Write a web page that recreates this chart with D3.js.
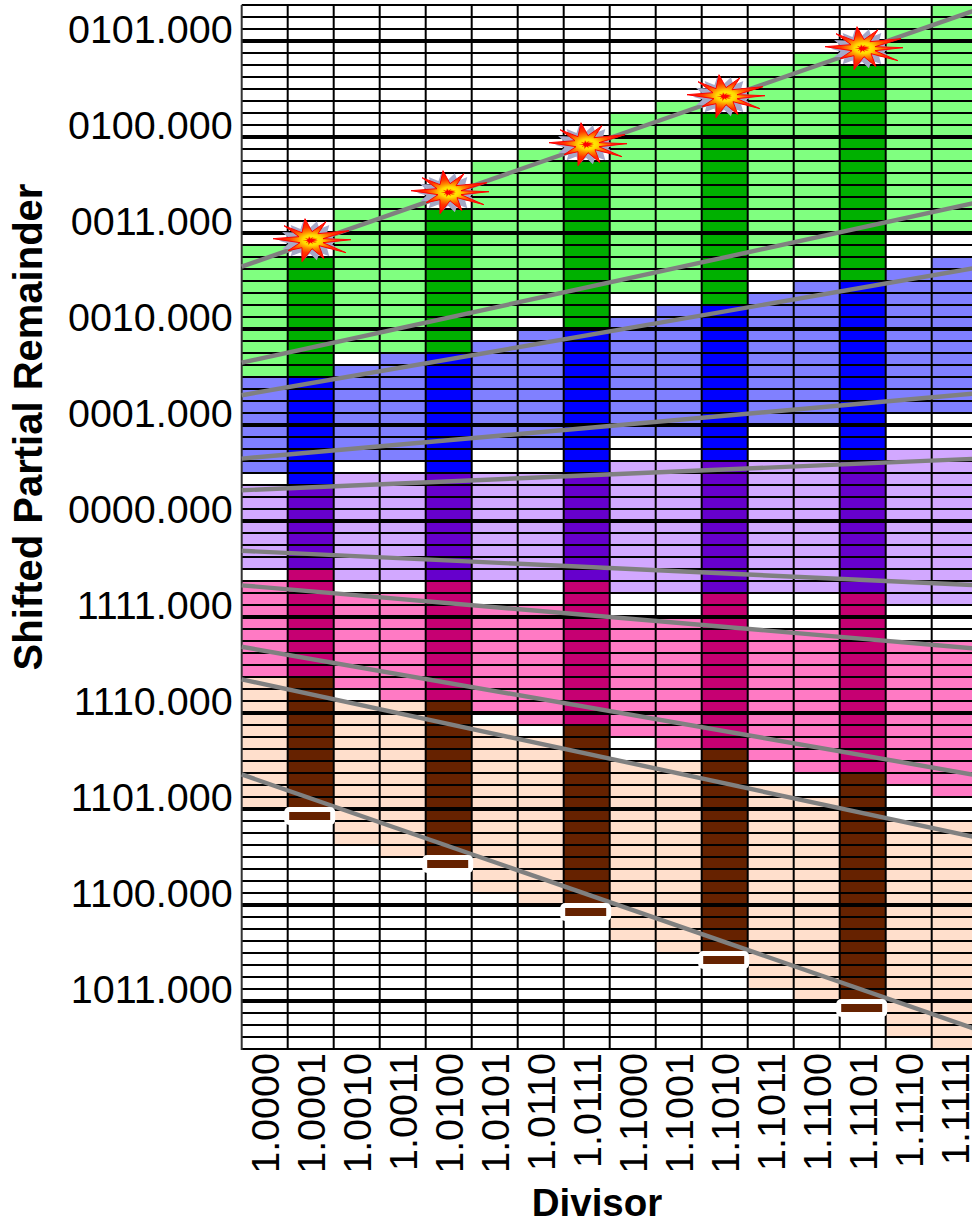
<!DOCTYPE html>
<html>
<head>
<meta charset="utf-8">
<script src="https://cdn.jsdelivr.net/npm/d3@7"></script>
<style>
html, body { margin: 0; padding: 0; background: #fff; overflow: hidden; }
svg { display: block; }
text { font-family: "Liberation Sans", Arial, sans-serif; fill: #000; }
</style>
</head>
<body>
<div id="chart"></div>
<script>
// divisor columns (x axis) and remainder labels (y axis)
const divisors = ['1.0000','1.0001','1.0010','1.0011','1.0100','1.0101','1.0110','1.0111',
                  '1.1000','1.1001','1.1010','1.1011','1.1100','1.1101','1.1110','1.1111'];
const remainderValues = [5,4,3,2,1,0,-1,-2,-3,-4,-5];
const remainderLabels = ['0101.000','0100.000','0011.000','0010.000','0001.000','0000.000',
                         '1111.000','1110.000','1101.000','1100.000','1011.000'];

// columns drawn in the dark shade
const darkColumns = [1,4,7,10,13];

// top and bottom edge of each digit region per column, in eighths of a unit
const plus2Top  = [23,22,26,27,26,30,31,30,34,35,34,38,39,38,42,43];
const plus2Bot  = [12,12,14,14,14,16,17,16,19,19,18,21,22,20,24,24];
const plus1Top  = [12,12,13,14,14,15,16,16,17,18,18,19,20,20,21,22];
const plus1Bot  = [ 4, 3, 5, 5, 4, 6, 6, 4, 7, 7, 5, 8, 8, 5, 9, 9];
const zeroTop   = [ 3, 3, 4, 4, 4, 4, 4, 4, 5, 5, 5, 5, 5, 5, 6, 6];
const zeroBot   = [-4,-4,-5,-5,-5,-5,-5,-5,-6,-6,-6,-6,-6,-6,-7,-7];
const minus1Top = [-5,-4,-6,-6,-5,-7,-7,-5,-8,-8,-6,-9,-9,-6,-10,-10];
const minus1Bot = [-13,-13,-14,-15,-15,-16,-17,-17,-18,-19,-19,-20,-21,-21,-22,-23];
const minus2Top = [-13,-13,-15,-15,-15,-17,-18,-17,-20,-20,-19,-22,-23,-21,-25,-25];
const minus2Bot = [-24,-24,-27,-28,-28,-31,-32,-32,-35,-36,-36,-39,-40,-40,-43,-44];

// digit boundary lines, remainder value where they meet divisor 1 and divisor 2
const boundaryAt1 = [2.65,1.65,1.31,0.65,0.32,-0.31,-0.67,-1.31,-1.65,-2.64];
const boundaryAt2 = [5.33,3.32,2.64,1.33,0.65,-0.67,-1.33,-2.65,-3.30,-5.30];

// marked table entries: the stars at the top, the small bars at the bottom
const starColumns  = [1,4,7,10,13];
const starValues   = [2.92,3.42,3.92,4.42,4.92];
const lowBarTops   = [-24,-28,-32,-36,-40];

const width = 972, height = 1224;

const regions = [
    {top: plus2Top,  bot: plus2Bot,  light: '#80ff80', dark: '#00b000'},
    {top: plus1Top,  bot: plus1Bot,  light: '#8080ff', dark: '#0000ff'},
    {top: zeroTop,   bot: zeroBot,   light: '#d2a8ff', dark: '#6600cc'},
    {top: minus1Top, bot: minus1Bot, light: '#ff7ac4', dark: '#c60072'},
    {top: minus2Top, bot: minus2Bot, light: '#ffdfcc', dark: '#662200'}
];

const svg = d3.select('#chart').append('svg')
    .attr('width', width)
    .attr('height', height);

const x = d3.scaleBand().domain(d3.range(divisors.length)).range([241.7, 977.7]);
const y = d3.scaleLinear().domain([-5.5, 5.375]).range([1049, 5]);
const xDivisor = d3.scaleLinear().domain([1, 2]).range([241.7, 977.7]);

// coloured cells
regions.forEach(r => {
    svg.append('g').selectAll('rect')
        .data(divisors.map((d, i) => i))
        .enter()
        .append('rect')
        .attr('x', i => x(i))
        .attr('y', i => y(r.top[i] / 8))
        .attr('width', x.bandwidth())
        .attr('height', i => y(r.bot[i] / 8) - y(r.top[i] / 8))
        .style('fill', i => darkColumns.includes(i) ? r.dark : r.light);
});

// grid, one line per eighth, heavier on whole values
const grid = svg.append('g');
d3.range(-44, 44).forEach(e => {
    grid.append('line')
        .attr('x1', x(0)).attr('x2', width)
        .attr('y1', y(e / 8)).attr('y2', y(e / 8))
        .style('stroke', '#000')
        .style('stroke-width', e % 8 == 0 ? 4 : 1.9);
});
d3.range(0, divisors.length).forEach(i => {
    grid.append('line')
        .attr('x1', x(i)).attr('x2', x(i))
        .attr('y1', y.range()[1]).attr('y2', y.range()[0] + 1)
        .style('stroke', i == 0 ? '#333' : '#000')
        .style('stroke-width', 2);
});

// boundary lines
svg.append('g').selectAll('line')
    .data(boundaryAt1)
    .enter()
    .append('line')
    .attr('x1', xDivisor(1))
    .attr('x2', xDivisor(2))
    .attr('y1', d => y(d))
    .attr('y2', (d, i) => y(boundaryAt2[i]))
    .style('stroke', '#808080')
    .style('stroke-width', 4.4);

// small bars with a white halo
svg.append('g').selectAll('rect')
    .data(lowBarTops)
    .enter()
    .append('rect')
    .attr('x', (d, i) => x(starColumns[i]) + 1.5)
    .attr('y', d => y(d / 8) + 3)
    .attr('width', x.bandwidth() - 5)
    .attr('height', 8)
    .style('fill', regions[4].dark)
    .style('stroke', '#fff')
    .style('stroke-width', 10)
    .style('stroke-linejoin', 'round')
    .style('paint-order', 'stroke');

// stars
const defs = svg.append('defs');
const burst = defs.append('radialGradient').attr('id', 'burst');
[[0, '#ff0000'], [0.08, '#ff8000'], [0.15, '#ffe800'], [0.25, '#ffd800'], [0.4, '#ff8800'], [0.6, '#ff3800'], [1, '#ff0000']]
    .forEach(s => burst.append('stop').attr('offset', s[0]).attr('stop-color', s[1]));

const burstShape = [[-5,-22],[2,-9],[16,-19],[8,-7],[39,-10],[13,-2],[41,-1],[13,2],[36,12],[9,5],
                    [14,18],[2,8],[-8,21],[-8,7],[-22,10],[-10,2],[-37,-2],[-11,-4],[-26,-15],[-8,-8]];
const toPath = pts => 'M' + pts.map(p => p.join(',')).join('L') + 'Z';
const backShape = d3.range(28).map(k => {
    const a = k / 28 * 2 * Math.PI;
    const rx = k % 2 ? 22 : 31, ry = k % 2 ? 13 : 20;
    return [rx * Math.cos(a), ry * Math.sin(a)];
});

const stars = svg.append('g').selectAll('g')
    .data(starValues)
    .enter()
    .append('g')
    .attr('transform', (d, i) => 'translate(' + (x(starColumns[i]) + x.bandwidth() / 2 - 0.7) + ',' + y(d) + ')');
stars.append('path').attr('d', toPath(backShape)).style('fill', '#a4a8c8');
stars.append('path').attr('d', toPath(burstShape))
    .style('fill', 'url(#burst)')
    .style('stroke', '#ff0000')
    .style('stroke-width', 1);
stars.append('path').attr('d', toPath(burstShape))
    .attr('transform', 'scale(0.2)')
    .style('fill', '#ff0000');

// axes
const yAxis = d3.axisLeft(y)
    .tickValues(remainderValues)
    .tickFormat((d, i) => remainderLabels[i])
    .tickSize(0)
    .tickPadding(9);
const yg = svg.append('g').attr('transform', 'translate(241.7,0)').call(yAxis);
yg.select('.domain').remove();
yg.selectAll('text')
    .attr('dy', '0.05em')
    .style('font-family', '"Liberation Sans", Arial, sans-serif')
    .style('font-size', '39.5px');

// divisor labels are cut off just under the third digit from the end
svg.append('defs').append('clipPath').attr('id', 'tickclip')
    .append('rect').attr('x', 0).attr('y', 1050).attr('width', width).attr('height', 120);
const xAxis = d3.axisBottom(x)
    .tickFormat(i => divisors[i])
    .tickSize(0);
const xg = svg.append('g')
    .attr('clip-path', 'url(#tickclip)')
    .append('g')
    .attr('transform', 'translate(0,1049)')
    .call(xAxis);
xg.select('.domain').remove();
xg.selectAll('text')
    .attr('transform', 'rotate(-90)')
    .attr('text-anchor', 'end')
    .attr('x', -4)
    .attr('y', 0)
    .attr('dy', '0.35em')
    .style('font-family', '"Liberation Sans", Arial, sans-serif')
    .style('font-size', '39.5px');

svg.append('text')
    .attr('transform', 'translate(42,427) rotate(-90)')
    .attr('text-anchor', 'middle')
    .style('font-size', '40px')
    .style('font-weight', 'bold')
    .text('Shifted Partial Remainder');

svg.append('text')
    .attr('x', 597)
    .attr('y', 1216)
    .attr('text-anchor', 'middle')
    .style('font-size', '38.5px')
    .style('font-weight', 'bold')
    .text('Divisor');
</script>
</body>
</html>
